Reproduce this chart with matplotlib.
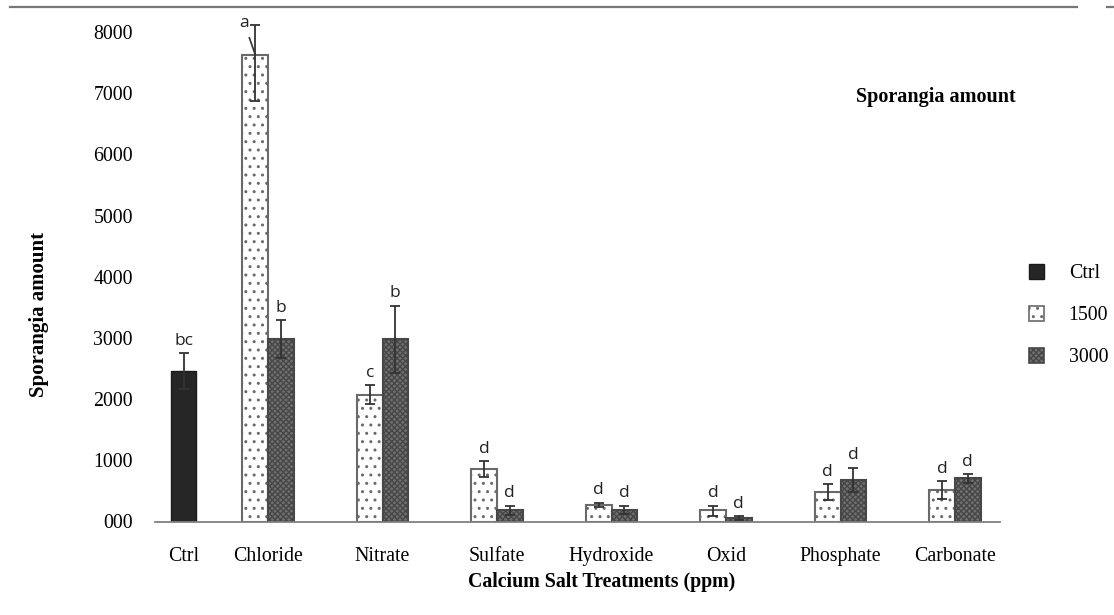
import numpy as np
import matplotlib
matplotlib.use("Agg")
import matplotlib.pyplot as plt
from matplotlib.lines import Line2D
from matplotlib.patches import Patch

# ---- data ----
salts = ["Chloride", "Nitrate", "Sulfate", "Hydroxide", "Oxid", "Phosphate", "Carbonate"]
ctrl_label = "Ctrl"
ctrl_value = 2460
ctrl_err = 290
ctrl_letter = "bc"

v1500 = [7630, 2070, 860, 270, 180, 480, 515]
e1500_lo = [750, 155, 130, 40, 85, 125, 145]
e1500_hi = [490, 155, 130, 40, 80, 125, 145]
l1500 = ["a", "c", "d", "d", "d", "d", "d"]

v3000 = [2980, 2975, 180, 190, 52, 685, 705]
e3000 = [310, 550, 80, 70, 30, 195, 70]
l3000 = ["b", "b", "d", "d", "d", "d", "d"]

series_names = ["Ctrl", "1500", "3000"]
yticks = [0, 1000, 2000, 3000, 4000, 5000, 6000, 7000, 8000]
ytick_labels = ["000", "1000", "2000", "3000", "4000", "5000", "6000", "7000", "8000"]

# ---- figure ----
W, H = 1114, 615
fig = plt.figure(figsize=(W / 100, H / 100), dpi=100)
ax = fig.add_axes([155 / W, 1 - 521.5 / H, 845 / W, 489.5 / H])

serif = "Liberation Serif"
sans = "Open Sans"
fs = 14.3

bw = 0.223
x = np.arange(1, len(salts) + 1, dtype=float)
x_ctrl = 1 - 0.738

col_ctrl = "#262626"
col_3000 = "#707070"
edge_3000 = "#474747"
edge_1500 = "#6a6a6a"

err_kw = dict(ecolor="#333333", elinewidth=1.3, capsize=3.5, capthick=1.3)

b_ctrl = ax.bar([x_ctrl], [ctrl_value], width=bw, color=col_ctrl, edgecolor="#1a1a1a",
                linewidth=1.0, yerr=[ctrl_err], error_kw=err_kw, zorder=2)
b1500 = ax.bar(x - bw / 2, v1500, width=bw, facecolor="white", edgecolor=edge_1500,
               hatch="..", linewidth=1.5, yerr=[e1500_lo, e1500_hi], error_kw=err_kw, zorder=2)
b3000 = ax.bar(x + bw / 2, v3000, width=bw, facecolor=col_3000, edgecolor=edge_3000,
               hatch="xxxxxx", linewidth=1.5, yerr=e3000, error_kw=err_kw, zorder=2)
for bars in (b_ctrl, b1500, b3000):
    for err in bars.errorbar.lines[1] + bars.errorbar.lines[2]:
        err.set_clip_on(False)

# significance letters
lt_kw = dict(ha="center", va="baseline", fontsize=12.5, family=sans, color="#222222",
             textcoords="offset points")
ax.annotate(ctrl_letter, (x_ctrl, ctrl_value + ctrl_err), xytext=(0, 6), **lt_kw)
for i in range(len(salts)):
    if l1500[i] == "a":
        ax.annotate(l1500[i], (x[i] - bw / 2, v1500[i]), xytext=(-8, 20), annotation_clip=False,
                    arrowprops=dict(arrowstyle="-", color="#333333", lw=1.2, shrinkA=3, shrinkB=0),
                    **lt_kw)
    else:
        ax.annotate(l1500[i], (x[i] - bw / 2, v1500[i] + e1500_hi[i]), xytext=(0, 6), **lt_kw)
    ax.annotate(l3000[i], (x[i] + bw / 2, v3000[i] + e3000[i]), xytext=(0, 6), **lt_kw)

# axes styling
ax.set_xlim(0.013, 7.393)
ax.set_ylim(0, 8000)
for s in ("left", "top", "right"):
    ax.spines[s].set_visible(False)
ax.spines["bottom"].set_color("#808080")
ax.spines["bottom"].set_linewidth(1.3)

ax.set_yticks(yticks)
ax.set_yticklabels(ytick_labels, family=serif, fontsize=fs)
ax.tick_params(axis="y", length=0, pad=16)
ax.set_xticks([x_ctrl] + list(x))
ax.set_xticklabels([ctrl_label] + salts, family=serif, fontsize=fs)
ax.tick_params(axis="x", length=0, pad=18.5)

ax.set_xlabel("Calcium Salt Treatments (ppm)", family=serif, fontsize=fs, fontweight="bold")
ax.xaxis.set_label_coords(0.528, -0.104)
ax.set_ylabel("Sporangia amount", family=serif, fontsize=15, fontweight="bold")
ax.yaxis.set_label_coords(-0.125, 0.422)

fig.text(936 / W, 1 - 97 / H, "Sporangia amount", family=serif, fontsize=14.5,
         fontweight="bold", ha="center", va="center")

# legend
handles = [Patch(facecolor=col_ctrl, edgecolor="#1a1a1a"),
           Patch(facecolor="white", edgecolor=edge_1500, hatch="..", linewidth=1.2),
           Patch(facecolor=col_3000, edgecolor=edge_3000, hatch="xxxxxx", linewidth=1.2)]
leg = fig.legend(handles, series_names, loc="upper left", bbox_to_anchor=(1029 / W, 1 - 264 / H),
                 frameon=False, prop=dict(family=serif, size=fs), handlelength=0.75,
                 handleheight=0.75, labelspacing=1.15, handletextpad=1.25, borderaxespad=0,
                 borderpad=0)

# top frame line
fig.add_artist(Line2D([10 / W, 1077 / W], [1 - 7 / H, 1 - 7 / H], color="#777777", lw=1.6,
                      transform=fig.transFigure))
fig.add_artist(Line2D([1107 / W, 1114 / W], [1 - 7 / H, 1 - 7 / H], color="#777777", lw=1.6,
                      transform=fig.transFigure))

fig.savefig("out.png", dpi=100)
